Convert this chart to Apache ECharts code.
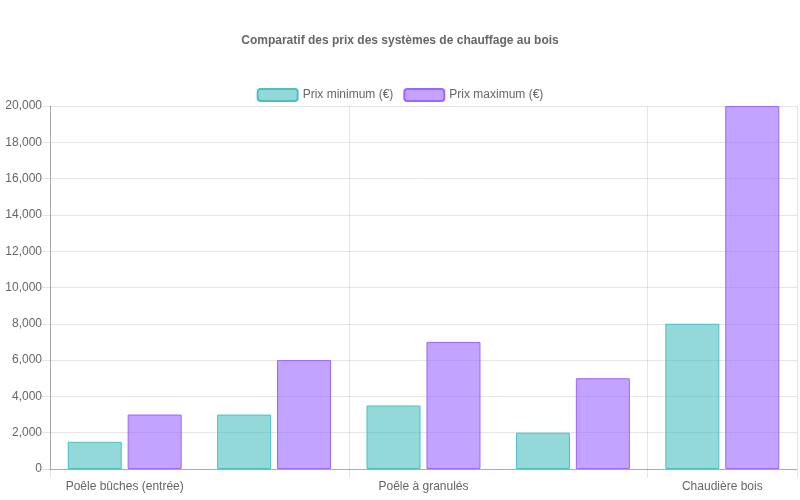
<!DOCTYPE html>
<html>
<head>
<meta charset="utf-8">
<script src="https://cdn.jsdelivr.net/npm/echarts@6/dist/echarts.min.js"></script>
<style>html,body{margin:0;background:#fff}#chart{width:800px;height:500px}</style>
</head>
<body>
<div id="chart"></div>
<script>
var categories = ['Poêle bûches (entrée)', 'Poêle bûches (double)', 'Poêle à granulés', 'Insert', 'Chaudière bois'];
var prixMin = [1500, 3000, 3500, 2000, 8000];
var prixMax = [3000, 6000, 7000, 5000, 20000];

var chart = echarts.init(document.getElementById('chart'));
var txt = {fontFamily: 'Liberation Sans, Arial', color: '#666', fontSize: 12};
chart.setOption({
	animation: false,
	title: {
		text: 'Comparatif des prix des systèmes de chauffage au bois',
		left: 'center', top: 30,
		textStyle: {fontFamily: 'Liberation Sans, Arial', color: '#666', fontSize: 12, fontWeight: 'bold'}
	},
	legend: {
		top: 83, itemWidth: 40, itemHeight: 12, itemGap: 10,
		textStyle: txt,
		data: ['Prix minimum (€)', 'Prix maximum (€)']
	},
	grid: {left: 50, right: 3, top: 106, bottom: 31},
	xAxis: {
		type: 'category',
		data: categories,
		axisLine: {lineStyle: {color: 'rgba(0,0,0,0.25)'}},
		axisTick: {show: true, length: 9, lineStyle: {color: 'rgba(0,0,0,0.1)'}},
		splitLine: {show: true, lineStyle: {color: 'rgba(0,0,0,0.1)'}},
		axisLabel: Object.assign({margin: 12}, txt)
	},
	yAxis: {
		type: 'value', min: 0, max: 20000, interval: 2000,
		axisLine: {show: true, lineStyle: {color: 'rgba(0,0,0,0.25)'}},
		axisTick: {show: true, length: 8, lineStyle: {color: 'rgba(0,0,0,0.1)'}},
		splitLine: {lineStyle: {color: 'rgba(0,0,0,0.1)'}},
		axisLabel: Object.assign({margin: 8}, txt)
	},
	series: [{
		name: 'Prix minimum (€)', type: 'bar', data: prixMin,
		barWidth: 54, barGap: '11%',
		itemStyle: {color: 'rgba(75,192,192,0.6)', borderColor: 'rgba(75,192,192,1)', borderWidth: 1}
	}, {
		name: 'Prix maximum (€)', type: 'bar', data: prixMax,
		barWidth: 54,
		itemStyle: {color: 'rgba(153,102,255,0.6)', borderColor: 'rgba(153,102,255,1)', borderWidth: 1}
	}]
});
</script>
</body>
</html>
